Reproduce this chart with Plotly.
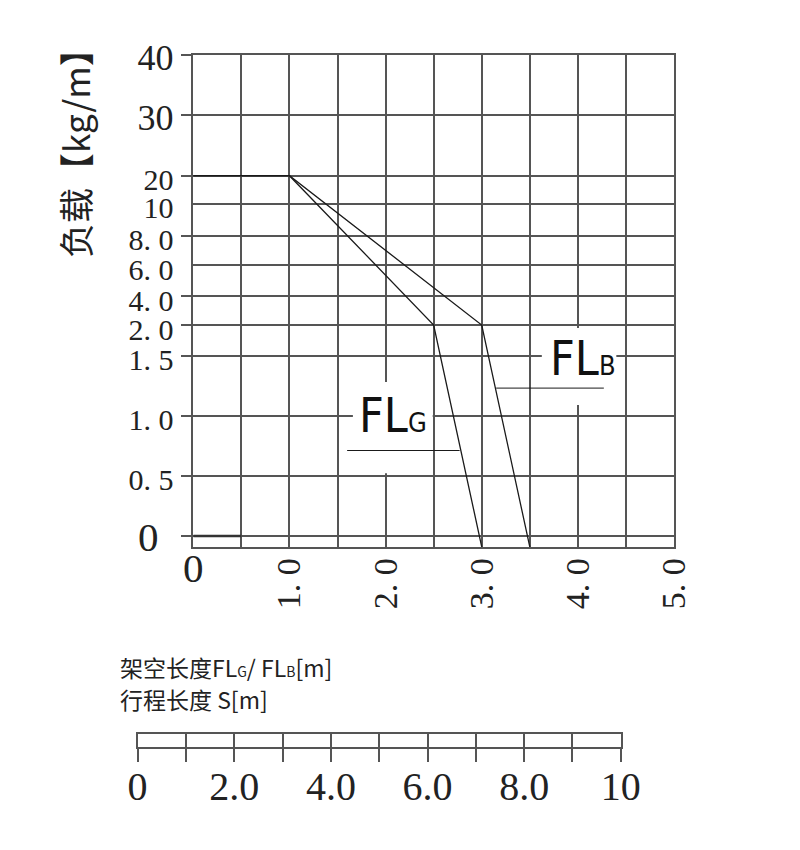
import numpy as np
import plotly.graph_objects as go

# ---------------- data ----------------
# load axis (non-linear, as printed in the chart)
LOAD_TICKS = [0, 0.5, 1.0, 1.5, 2.0, 4.0, 6.0, 8.0, 10, 20, 30, 40]
LOAD_TICK_TEXT = [
    "<span style='font-size:41px'>0</span>&nbsp;&nbsp;",
    "0. 5", "1. 0", "1. 5", "2. 0", "4. 0", "6. 0", "8. 0", "10", "20",
    "<span style='font-size:36px'>30</span>",
    "<span style='font-size:36px'>40</span>",
]
# calibration of the non-linear load scale (axis units above the base line)
LOAD_SCALE = [11, 71.3, 131.3, 191.3, 222, 251, 281.7, 311.3, 343.3, 371.3, 431.7, 492]
LOAD_TICKS_WITH_MARK = [0, 0.5, 1.0, 1.5, 2.0, 4.0, 8.0, 20, 30, 40]

# span axis
SPAN_GRID = [0, 0.5, 1.0, 1.5, 2.0, 2.5, 3.0, 3.5, 4.0, 4.5, 5.0]
SPAN_TICK_TEXT = ["", "", "1. 0", "", "2. 0", "", "3. 0", "", "4. 0", "", "5. 0"]

# curves (last point runs down to the base line, slightly below the 0 grid line)
FLG_SPAN = [0, 1.0, 2.5, 3.0]
FLG_LOAD = [20, 20, 2.0, -0.09]
FLB_SPAN = [0, 1.0, 3.0, 3.5]
FLB_LOAD = [20, 20, 2.0, -0.09]

# label leader lines
FLG_LEADER_SPAN = [1.6, 2.77]
FLG_LEADER_LOAD = [0.71, 0.71]
FLB_LEADER_SPAN = [3.15, 4.27]
FLB_LEADER_LOAD = [1.23, 1.23]

# short dark segment on the 0 line
BASE_SPAN = [0, 0.5]
BASE_LOAD = [0, 0]

# stroke ruler
STROKE_TICKS = [0, 1, 2, 3, 4, 5, 6, 7, 8, 9, 10]
STROKE_TICK_TEXT = ["0", "", "2.0", "", "4.0", "", "6.0", "", "8.0", "", "10"]


def load_to_pos(values):
    out = []
    slope0 = (LOAD_SCALE[1] - LOAD_SCALE[0]) / (LOAD_TICKS[1] - LOAD_TICKS[0])
    for v in values:
        if v < LOAD_TICKS[0]:
            out.append(LOAD_SCALE[0] + (v - LOAD_TICKS[0]) * slope0)
        else:
            out.append(float(np.interp(v, LOAD_TICKS, LOAD_SCALE)))
    return out


GRID = "#555555"
INK = "#1a1a1a"
SERIF = "Liberation Serif, DejaVu Serif, serif"
COND = "DejaVu Sans Condensed, Liberation Sans Narrow, DejaVu Sans, sans-serif"
CJK = "Noto Sans CJK SC, Noto Sans, sans-serif"

fig = go.Figure()

line_style = dict(color=INK, width=1.3)
fig.add_trace(go.Scatter(x=FLG_SPAN, y=load_to_pos(FLG_LOAD), mode="lines", line=line_style, name="FLG"))
fig.add_trace(go.Scatter(x=FLB_SPAN, y=load_to_pos(FLB_LOAD), mode="lines", line=line_style, name="FLB"))
fig.add_trace(go.Scatter(x=FLG_LEADER_SPAN, y=load_to_pos(FLG_LEADER_LOAD), mode="lines",
                         line=dict(color=INK, width=1)))
fig.add_trace(go.Scatter(x=FLB_LEADER_SPAN, y=load_to_pos(FLB_LEADER_LOAD), mode="lines",
                         line=dict(color=INK, width=1)))
fig.add_trace(go.Scatter(x=BASE_SPAN, y=load_to_pos(BASE_LOAD), mode="lines",
                         line=dict(color="#333333", width=2.5)))

# invisible traces so the overlay axes and the ruler are drawn
fig.add_trace(go.Scatter(x=[0, 5], y=[0, 492], mode="markers", marker=dict(opacity=0),
                         xaxis="x2", yaxis="y2", hoverinfo="skip"))
fig.add_trace(go.Scatter(x=[0, 10], y=[0, 1], mode="markers", marker=dict(opacity=0),
                         xaxis="x3", yaxis="y3", hoverinfo="skip"))

# white gaps behind the labels (between grid and traces)
fig.add_shape(type="rect", xref="x", yref="y", x0=1.66, x1=2.49,
              y0=load_to_pos([0.52])[0], y1=load_to_pos([1.28])[0],
              fillcolor="white", line=dict(width=0), layer="between")
fig.add_shape(type="rect", xref="x", yref="y", x0=3.625, x1=4.40,
              y0=load_to_pos([1.09])[0], y1=load_to_pos([1.95])[0],
              fillcolor="white", line=dict(width=0), layer="between")

fig.add_annotation(x=2.08, y=load_to_pos([1.01])[0], xref="x", yref="y",
                   xanchor="center", yanchor="middle",
                   text="FL<span style='font-size:27px'>G</span>", showarrow=False,
                   font=dict(family=COND, size=48, color="#111111"))
fig.add_annotation(x=4.055, y=load_to_pos([1.485])[0], xref="x", yref="y",
                   xanchor="center", yanchor="middle",
                   text="FL<span style='font-size:27px'>B</span>", showarrow=False,
                   font=dict(family=COND, size=48, color="#111111"))

# y title
fig.add_annotation(x=-0.0417, y=0.8747, xref="paper", yref="paper",
                   xanchor="center", yanchor="middle",
                   text="负载【kg/m】", textangle=-90, showarrow=False,
                   font=dict(family=CJK, size=35, color="#222222"))

# captions above the ruler
fig.add_annotation(x=0.03, y=0.1773, xref="paper", yref="paper", xanchor="left", yanchor="middle",
                   text="架空长度FL<span style='font-size:14px'>G</span>/ FL<span style='font-size:14px'>B</span>[m]",
                   showarrow=False, font=dict(family=CJK, size=23, color="#222222"))
fig.add_annotation(x=0.03, y=0.1353, xref="paper", yref="paper", xanchor="left", yanchor="middle",
                   text="行程长度 S[m]",
                   showarrow=False, font=dict(family=CJK, size=23, color="#222222"))

axis_line = dict(showline=True, linecolor=GRID, linewidth=1.5, mirror=True)

fig.update_layout(
    width=800, height=850,
    margin=dict(l=92, r=108, t=42, b=58),
    paper_bgcolor="white", plot_bgcolor="white",
    showlegend=False,
    xaxis=dict(domain=[0.1555, 0.9567], range=[0, 5], anchor="y",
               tickvals=SPAN_GRID, ticktext=SPAN_TICK_TEXT, tickangle=-90,
               tickfont=dict(family=SERIF, size=34, color="#222222"),
               ticklabelstandoff=-4,
               showgrid=True, gridcolor=GRID, gridwidth=1.5, zeroline=False,
               ticks="", **axis_line),
    xaxis2=dict(overlaying="x", anchor="y", side="bottom", range=[0, 5],
                tickvals=[0], ticktext=["0"], tickangle=0,
                tickfont=dict(family=SERIF, size=41, color="#222222"),
                ticklabelstandoff=-7,
                showgrid=False, zeroline=False, showline=False, ticks=""),
    yaxis=dict(domain=[0.33733, 0.99333], range=[0, 492], anchor="x",
               tickvals=LOAD_SCALE, ticktext=LOAD_TICK_TEXT,
               tickfont=dict(family=SERIF, size=30, color="#222222"),
               ticklabelstandoff=12, ticklabelshift=4,
               showgrid=True, gridcolor=GRID, gridwidth=1.5, zeroline=False,
               ticks="", **axis_line),
    yaxis2=dict(overlaying="y", anchor="x2", side="left", range=[0, 492],
                tickvals=load_to_pos(LOAD_TICKS_WITH_MARK),
                ticktext=[""] * len(LOAD_TICKS_WITH_MARK),
                ticks="outside", ticklen=11, tickwidth=1.5, tickcolor=GRID,
                showgrid=False, zeroline=False, showline=False),
    xaxis3=dict(domain=[0.0627, 0.868], range=[0, 10], anchor="y3",
                tickvals=STROKE_TICKS, ticktext=STROKE_TICK_TEXT,
                ticks="outside", ticklen=13, tickwidth=1.5, tickcolor=GRID,
                tickfont=dict(family=SERIF, size=40, color="#222222"),
                ticklabelstandoff=-10,
                showgrid=True, gridcolor=GRID, gridwidth=1.5, zeroline=False,
                **axis_line),
    yaxis3=dict(domain=[0.0709, 0.0881], range=[0, 1], anchor="x3",
                showticklabels=False, showgrid=False, zeroline=False, ticks="",
                **axis_line),
)

fig.write_html("out.html")
